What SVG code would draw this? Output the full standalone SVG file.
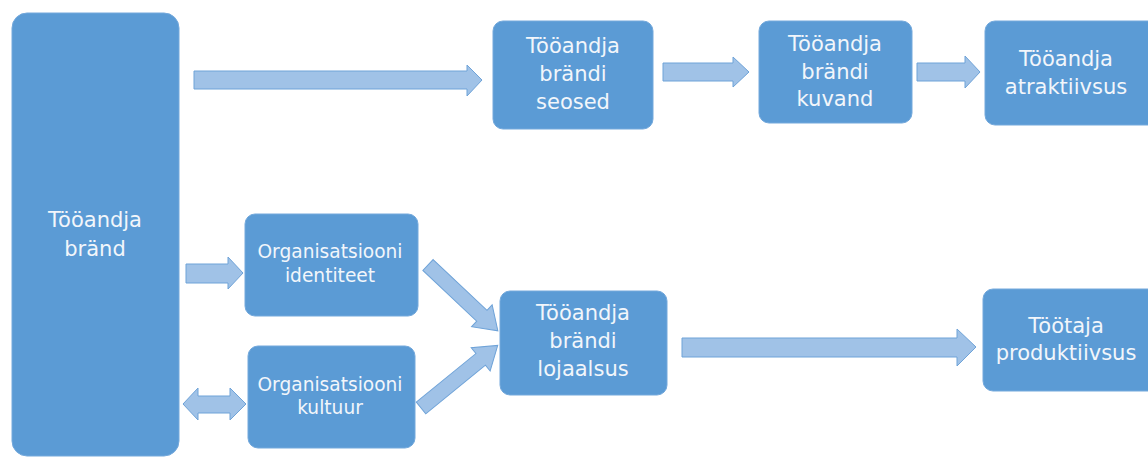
<svg xmlns="http://www.w3.org/2000/svg" width="1148" height="457" viewBox="0 0 1148 457">
<style>
.box{fill:#5B9BD5;stroke:#74A9DC;stroke-width:1}
.t{font-family:"DejaVu Sans",sans-serif;font-size:21px;fill:#F2F6FB;text-anchor:middle}
.s{font-family:"DejaVu Sans",sans-serif;font-size:18.6px;fill:#F2F6FB;text-anchor:middle}
.arr{fill:#A0C2E7;stroke:#6FA3D8;stroke-width:1}
</style>
<rect width="1148" height="457" fill="#FFFFFF"/>
<g id="connectors">
<polygon class="arr" points="194,71 467,71 467,65 482,80 467,96 467,89 194,89"/>
<polygon class="arr" points="663,63 733,63 733,57 749,72 733,87 733,81 663,81"/>
<polygon class="arr" points="917,63 965,63 965,56 980,72 965,88 965,81 917,81"/>
<polygon class="arr" points="186,264 228,264 228,257 243,273 228,289 228,283 186,283"/>
<polygon class="arr" points="183,404 198,388 198,396 230,396 230,388 246,404 230,420 230,413 198,413 198,420"/>
<polygon class="arr" transform="translate(428,265) rotate(43.3)" points="0,-7.5 74,-7.5 74,-15 96,0 74,15 74,7.5 0,7.5"/>
<polygon class="arr" transform="translate(421,408) rotate(-39.2)" points="0,-7.5 77,-7.5 77,-15 99,0 77,15 77,7.5 0,7.5"/>
<polygon class="arr" points="682,338 957,338 957,329 976,347 957,366 957,357 682,357"/>
</g>
<g id="n-brand">
<rect class="box" x="12" y="13" width="167" height="443" rx="15"/>
<text class="t" x="95" y="227">Tööandja</text>
<text class="t" x="95" y="256">bränd</text>
</g>
<g id="n-seosed">
<rect class="box" x="493" y="21" width="160" height="108" rx="10"/>
<text class="t" x="573" y="53">Tööandja</text>
<text class="t" x="573" y="81">brändi</text>
<text class="t" x="573" y="109">seosed</text>
</g>
<g id="n-kuvand">
<rect class="box" x="759" y="21" width="153" height="102" rx="10"/>
<text class="t" x="835" y="51">Tööandja</text>
<text class="t" x="835" y="79">brändi</text>
<text class="t" x="835" y="106">kuvand</text>
</g>
<g id="n-atraktiivsus">
<rect class="box" x="985" y="21" width="175" height="104" rx="10"/>
<text class="t" x="1066" y="66">Tööandja</text>
<text class="t" x="1066" y="94">atraktiivsus</text>
</g>
<g id="n-identiteet">
<rect class="box" x="245" y="214" width="173" height="102" rx="10"/>
<text class="s" x="330" y="258">Organisatsiooni</text>
<text class="s" x="330" y="282">identiteet</text>
</g>
<g id="n-kultuur">
<rect class="box" x="248" y="346" width="167" height="102" rx="10"/>
<text class="s" x="330" y="391">Organisatsiooni</text>
<text class="s" x="330" y="414">kultuur</text>
</g>
<g id="n-lojaalsus">
<rect class="box" x="500" y="291" width="167" height="104" rx="10"/>
<text class="t" x="583" y="320">Tööandja</text>
<text class="t" x="583" y="348">brändi</text>
<text class="t" x="583" y="376">lojaalsus</text>
</g>
<g id="n-produktiivsus">
<rect class="box" x="983" y="289" width="177" height="102" rx="10"/>
<text class="t" x="1066" y="333">Töötaja</text>
<text class="t" x="1066" y="360">produktiivsus</text>
</g>
</svg>
